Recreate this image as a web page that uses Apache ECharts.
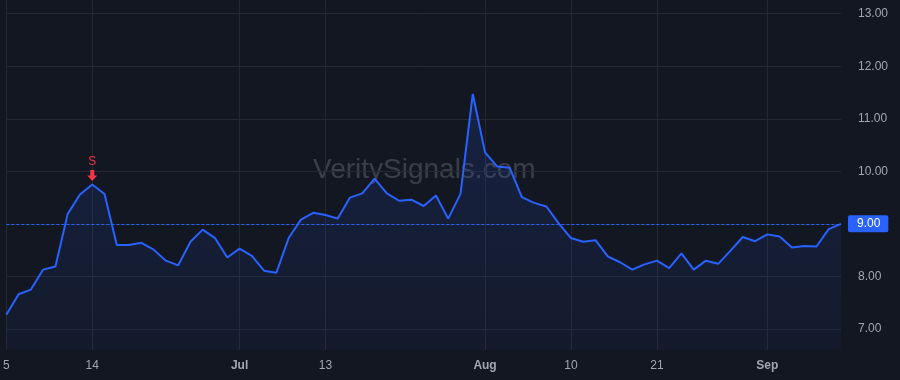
<!DOCTYPE html>
<html>
<head>
<meta charset="utf-8">
<script src="https://cdn.jsdelivr.net/npm/echarts@6/dist/echarts.min.js"></script>
<style>
  html, body { margin: 0; padding: 0; background: #131722; }
  #chart { width: 900px; height: 380px; }
</style>
</head>
<body>
<div id="chart"></div>
<script>
// trading days, Jun 5 - Sep 12 2023
var dates = [
    '2023-06-05', '2023-06-06', '2023-06-07', '2023-06-08', '2023-06-09',
    '2023-06-12', '2023-06-13', '2023-06-14', '2023-06-15', '2023-06-16',
    '2023-06-20', '2023-06-21', '2023-06-22', '2023-06-23', '2023-06-26',
    '2023-06-27', '2023-06-28', '2023-06-29', '2023-06-30', '2023-07-03',
    '2023-07-05', '2023-07-06', '2023-07-07', '2023-07-10', '2023-07-11',
    '2023-07-12', '2023-07-13', '2023-07-14', '2023-07-17', '2023-07-18',
    '2023-07-19', '2023-07-20', '2023-07-21', '2023-07-24', '2023-07-25',
    '2023-07-26', '2023-07-27', '2023-07-28', '2023-07-31', '2023-08-01',
    '2023-08-02', '2023-08-03', '2023-08-04', '2023-08-07', '2023-08-08',
    '2023-08-09', '2023-08-10', '2023-08-11', '2023-08-14', '2023-08-15',
    '2023-08-16', '2023-08-17', '2023-08-18', '2023-08-21', '2023-08-22',
    '2023-08-23', '2023-08-24', '2023-08-25', '2023-08-28', '2023-08-29',
    '2023-08-30', '2023-08-31', '2023-09-01', '2023-09-05', '2023-09-06',
    '2023-09-07', '2023-09-08', '2023-09-11', '2023-09-12'
];
var prices = [
    7.27, 7.66, 7.75, 8.13, 8.19,
    9.19, 9.56, 9.75, 9.57, 8.60,
    8.60, 8.64, 8.51, 8.30, 8.21,
    8.66, 8.89, 8.73, 8.36, 8.53,
    8.39, 8.11, 8.07, 8.73, 9.08,
    9.21, 9.17, 9.10, 9.50, 9.58,
    9.86, 9.58, 9.44, 9.46, 9.34,
    9.54, 9.10, 9.57, 11.47, 10.36,
    10.09, 10.07, 9.51, 9.40, 9.33,
    9.01, 8.73, 8.66, 8.69, 8.38,
    8.27, 8.13, 8.23, 8.30, 8.16,
    8.44, 8.13, 8.30, 8.24, 8.49,
    8.75, 8.67, 8.80, 8.76, 8.55,
    8.58, 8.57, 8.90, 9.00
];
var tickDates = ['2023-06-05', '2023-06-14', '2023-07-03', '2023-07-13', '2023-08-01', '2023-08-10', '2023-08-21', '2023-09-01'];
var tickLabels = ['5', '14', 'Jul', '13', 'Aug', '10', '21', 'Sep'];
var lastPrice = 9.00;
var signalDate = '2023-06-14';
var signalValue = 9.75;

var fontFam = '"Liberation Sans", Arial, sans-serif';
var chart = echarts.init(document.getElementById('chart'));

var isTick = function (idx, val) {
    return tickDates.indexOf(val) >= 0;
};

var option = {
    backgroundColor: '#131722',
    animation: false,
    grid: { left: 5, right: 59, top: 0, bottom: 30 },
    graphic: [{
        type: 'text',
        left: 423 - 110,
        top: 156,
        z: -10,
        silent: true,
        style: {
            text: 'VeritySignals.com',
            font: '28px "Liberation Sans", Arial, sans-serif',
            fill: 'rgba(255,255,255,0.17)'
        }
    }],
    xAxis: {
        type: 'category',
        data: dates,
        boundaryGap: false,
        axisLine: { show: false },
        axisTick: { show: false },
        axisLabel: {
            interval: isTick,
            margin: 10,
            color: '#a3a6af',
            fontSize: 12,
            fontFamily: fontFam,
            formatter: function (val) {
                var i = tickDates.indexOf(val);
                var txt = i >= 0 ? tickLabels[i] : '';
                if (/^[A-Z]/.test(txt)) return '{b|' + txt + '}';
                return txt;
            },
            rich: {
                b: { fontWeight: 'bold', color: '#a3a6af', fontSize: 12, fontFamily: fontFam }
            }
        },
        splitLine: {
            show: true,
            interval: isTick,
            lineStyle: { color: '#242833', width: 1 }
        }
    },
    yAxis: {
        type: 'value',
        position: 'right',
        min: 6.6,
        max: 13.26,
        splitNumber: 6,
        axisLine: { show: false },
        axisTick: { show: false },
        axisLabel: {
            margin: 17,
            color: '#a3a6af',
            fontSize: 12,
            fontFamily: fontFam,
            showMinLabel: false,
            showMaxLabel: false,
            formatter: function (v) { return v.toFixed(2); }
        },
        splitLine: {
            showMinLine: false,
            showMaxLine: false,
            lineStyle: { color: '#242833', width: 1 }
        }
    },
    series: [{
        type: 'line',
        data: prices,
        symbol: 'none',
        lineStyle: { color: '#2962ff', width: 2 },
        areaStyle: {
            origin: 'start',
            color: new echarts.graphic.LinearGradient(0, 0, 0, 1, [
                { offset: 0, color: 'rgba(41,98,255,0.22)' },
                { offset: 1, color: 'rgba(41,98,255,0.06)' }
            ])
        },
        markLine: {
            silent: true,
            symbol: 'none',
            lineStyle: { color: '#2962ff', type: [3, 2], width: 1 },
            label: {
                show: true,
                position: 'end',
                distance: 7,
                formatter: lastPrice.toFixed(2),
                color: '#ffffff',
                fontSize: 12,
                fontFamily: fontFam,
                backgroundColor: '#2962ff',
                padding: [3, 8, 2, 9],
                borderRadius: 2
            },
            data: [{ yAxis: lastPrice }]
        },
        markPoint: {
            silent: true,
            data: [{
                coord: [signalDate, signalValue],
                symbol: 'path://M3,0 L7,0 L7,6 L10,6 L5,12 L0,6 L3,6 Z',
                symbolSize: [10, 11],
                symbolOffset: [0, -9],
                itemStyle: { color: '#f23645' },
                label: {
                    show: true,
                    position: 'top',
                    distance: 2,
                    formatter: 'S',
                    color: '#f23645',
                    fontSize: 12,
                    fontFamily: fontFam
                }
            }]
        }
    }]
};
chart.setOption(option);
</script>
</body>
</html>
